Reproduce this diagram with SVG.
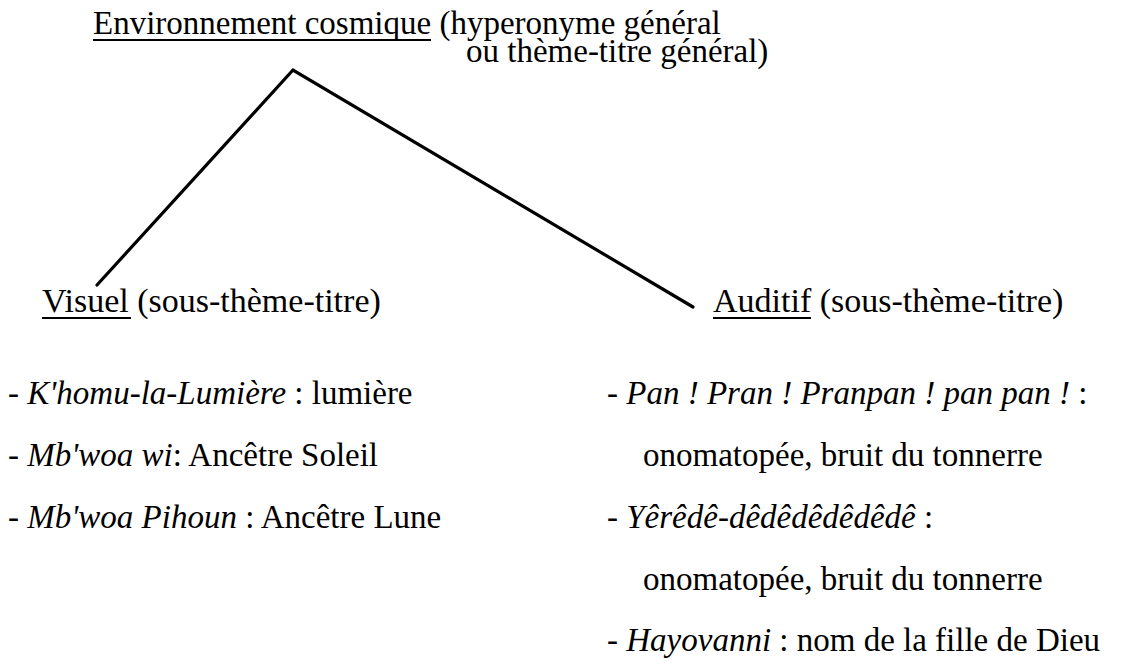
<svg xmlns="http://www.w3.org/2000/svg" width="1147" height="668" viewBox="0 0 1147 668">
<style>
text{font-family:"Liberation Serif","Times New Roman",serif;font-size:33px;fill:#000}
.s{font-size:34px}
.i{font-style:italic}
.u{stroke:#000;stroke-width:2}
.c{stroke:#000;stroke-width:3.2;fill:none;stroke-linecap:round;stroke-linejoin:miter}
</style>
<rect width="1147" height="668" fill="#fff"/>
<g id="connectors">
<polyline class="c" points="97,285 293,70 693,307"/>
</g>
<g id="root">
<text x="93" y="34">Environnement cosmique (hyperonyme général</text>
<text x="466" y="62">ou thème-titre général)</text>
<line class="u" x1="93" y1="40" x2="431" y2="40"/>
</g>
<g id="visuel">
<text class="s" x="42" y="312">Visuel (sous-thème-titre)</text>
<line class="u" x1="42" y1="318" x2="131" y2="318"/>
</g>
<g id="auditif">
<text class="s" x="713" y="312">Auditif (sous-thème-titre)</text>
<line class="u" x1="713" y1="318" x2="811" y2="318"/>
</g>
<g id="visuel-list">
<text x="8" y="404">- <tspan class="i">K'homu-la-Lumière</tspan> : lumière</text>
<text x="8" y="466">- <tspan class="i">Mb'woa wi</tspan>: Ancêtre Soleil</text>
<text x="8" y="528">- <tspan class="i">Mb'woa Pihoun</tspan> : Ancêtre Lune</text>
</g>
<g id="auditif-list">
<text x="607" y="404">- <tspan class="i">Pan ! Pran ! Pranpan ! pan pan !</tspan> :</text>
<text x="643" y="466">onomatopée, bruit du tonnerre</text>
<text x="607" y="528">- <tspan class="i">Yêrêdê-dêdêdêdêdêdê</tspan> :</text>
<text x="643" y="590">onomatopée, bruit du tonnerre</text>
<text x="607" y="651">- <tspan class="i">Hayovanni</tspan> : nom de la fille de Dieu</text>
</g>
</svg>
